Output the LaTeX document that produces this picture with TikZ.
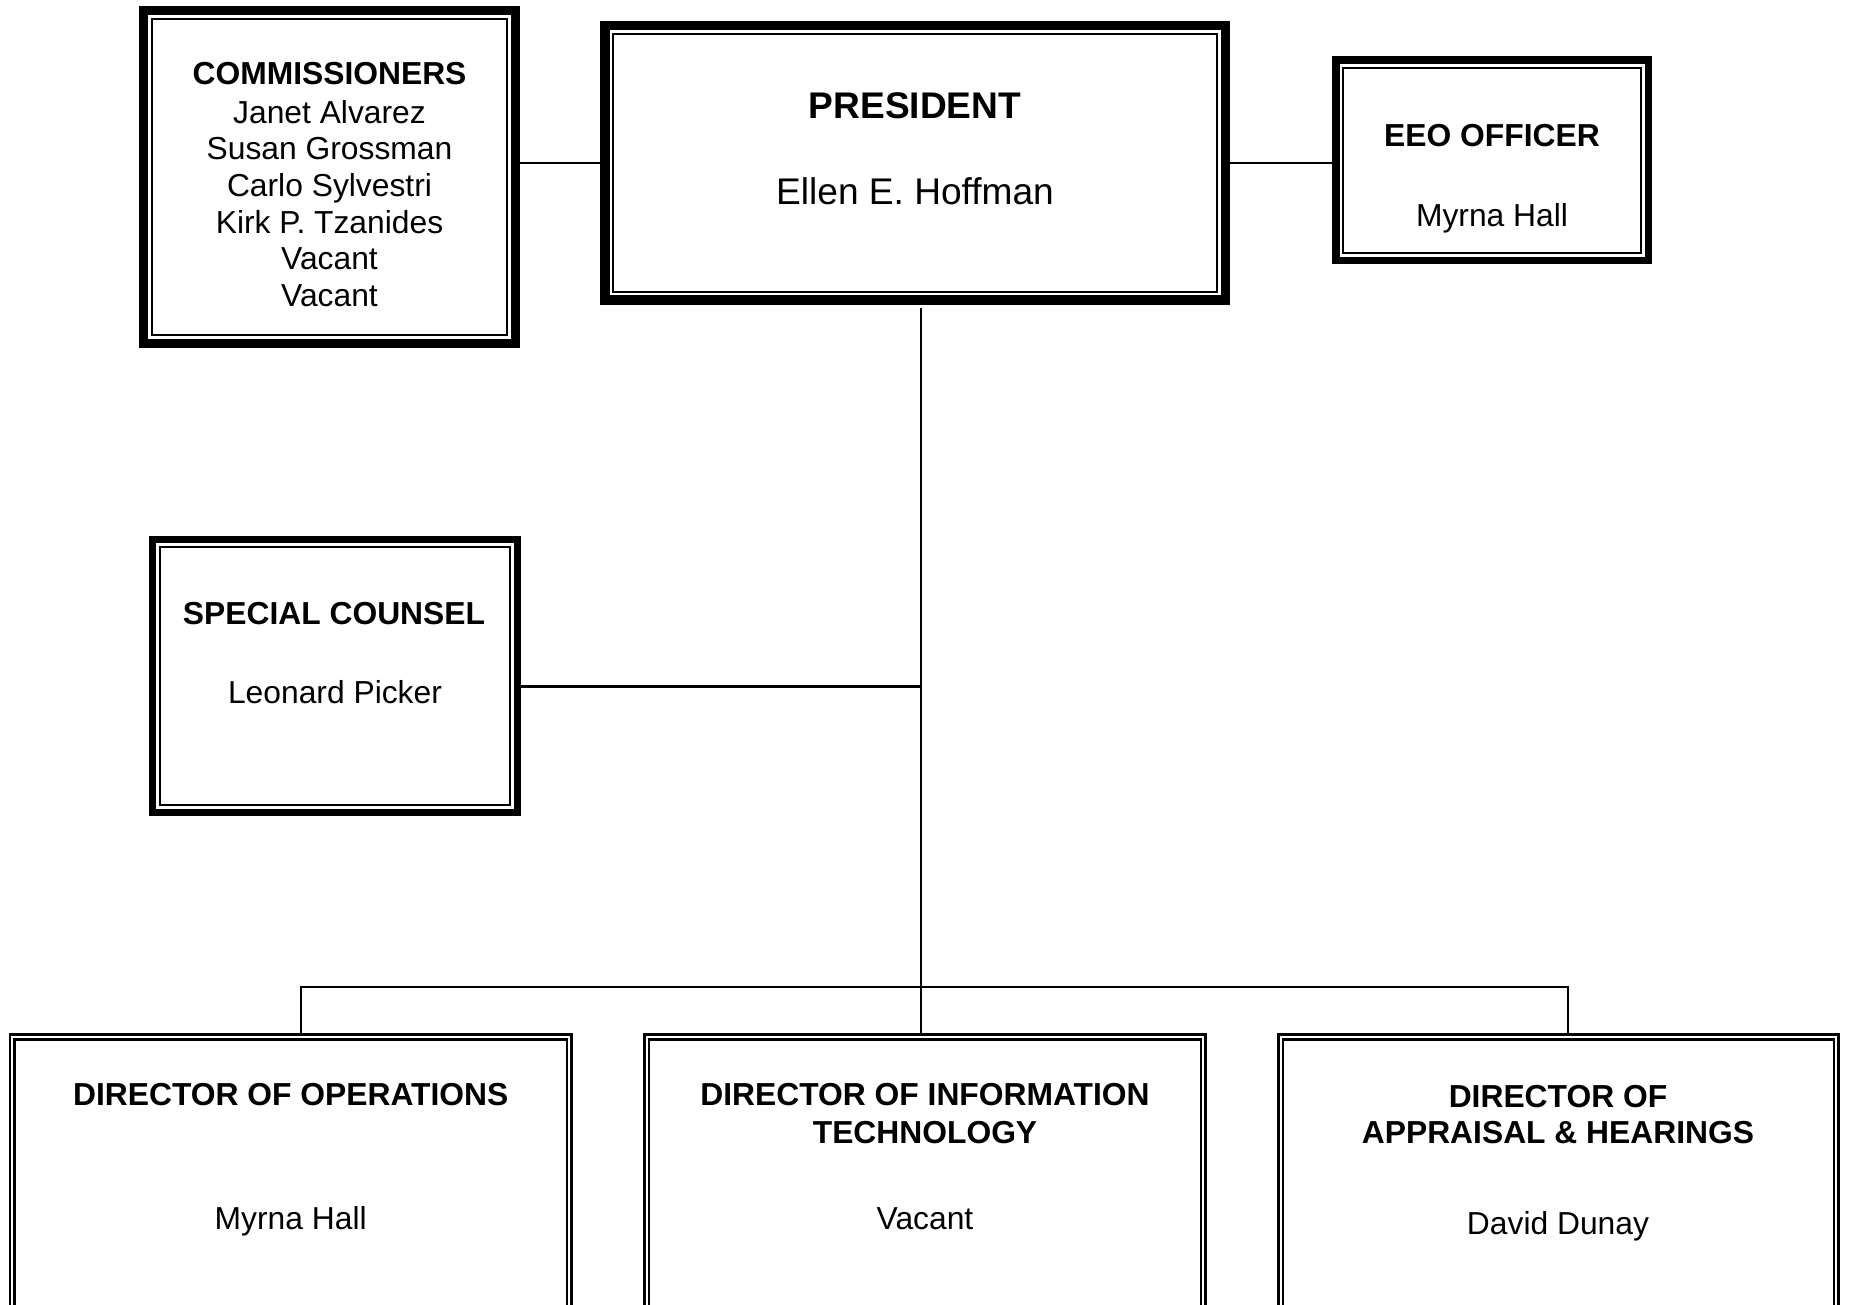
\documentclass[tikz,border=0pt]{standalone}
\usepackage{fontspec}
\setmainfont{Liberation Sans}
\newcommand\txtfs{\fontsize{31.8}{36.6}\selectfont}
\newcommand\presfs{\fontsize{37.1}{42.7}\selectfont}
\tikzset{
  thickthin/.style={draw, line width=#1, outer sep=#1/2, inner sep=0pt},
  dirbox/.style={draw, line width=2.6pt, double, double distance=2.2pt, outer sep=3.7pt, inner sep=0pt},
  innerline/.style={draw, line width=2.3pt},
  conn/.style={draw, line width=2.5pt},
  txt/.style={anchor=base, inner sep=0pt, font=\txtfs, yshift=-1.6pt},
  ptxt/.style={anchor=base, inner sep=0pt, font=\presfs, yshift=-1.6pt}
}
\begin{document}
\begin{tikzpicture}[x=1pt, y=-1pt]
\useasboundingbox (0,0) rectangle (1849,1305);
\clip (0,0) rectangle (1849,1305);

% boxes
\node[thickthin=9pt, minimum width=372pt, minimum height=333pt] (comm) at (329.5,177) {};
\draw[innerline] ([shift={(12.7,12.7)}]comm.north west) rectangle ([shift={(-12.7,-12.7)}]comm.south east);

\node[thickthin=9.5pt, minimum width=620.5pt, minimum height=274.5pt] (pres) at (915,163) {};
\draw[innerline] ([shift={(13.2,13.2)}]pres.north west) rectangle ([shift={(-13.2,-13.2)}]pres.south east);

\node[thickthin=7.5pt, minimum width=312.5pt, minimum height=200.5pt] (eeo) at (1492,160.5) {};
\draw[innerline] ([shift={(11.2,11.2)}]eeo.north west) rectangle ([shift={(-11.2,-11.2)}]eeo.south east);

\node[thickthin=7pt, minimum width=365pt, minimum height=273pt] (sc) at (335,676) {};
\draw[innerline] ([shift={(10.7,10.7)}]sc.north west) rectangle ([shift={(-10.7,-10.7)}]sc.south east);

\node[dirbox, minimum width=557.1pt, minimum height=299.3pt] (dirops) at (290.75,1186.7) {};
\node[dirbox, minimum width=556.6pt, minimum height=299.3pt] (dirit) at (925,1186.7) {};
\node[dirbox, minimum width=555.6pt, minimum height=299.3pt] (dirap) at (1558.5,1186.7) {};

% texts
\node[txt] (commt) at (329.5,83.3) {\begin{tabular}[t]{@{}c@{}}\bfseries COMMISSIONERS\\[1.8pt] Janet Alvarez\\ Susan Grossman\\ Carlo Sylvestri\\ Kirk P. Tzanides\\ Vacant\\ Vacant\end{tabular}};

\node[ptxt, font=\presfs\bfseries] (prest) at (915,116.7) {PRESIDENT};
\node[ptxt] (presn) at (915,202.7) {Ellen E. Hoffman};

\node[txt, font=\txtfs\bfseries] (eeot) at (1492,145) {EEO OFFICER};
\node[txt] (eeon) at (1492,225) {Myrna Hall};

\node[txt, font=\txtfs\bfseries] (sct) at (334,623.3) {SPECIAL COUNSEL};
\node[txt] (scn) at (335,702.3) {Leonard Picker};

\node[txt, font=\txtfs\bfseries] (dopt) at (290.7,1104.3) {DIRECTOR OF OPERATIONS};
\node[txt] (dopn) at (290.7,1227.7) {Myrna Hall};

\node[txt, font=\txtfs\bfseries] (ditt) at (925,1104.3) {\begin{tabular}[t]{@{}c@{}}DIRECTOR OF INFORMATION\\[0.8pt] TECHNOLOGY\end{tabular}};
\node[txt] (ditn) at (925,1227.7) {Vacant};

\node[txt, font=\txtfs\bfseries] (dapt) at (1558,1105.5) {\begin{tabular}[t]{@{}c@{}}DIRECTOR OF\\ APPRAISAL \& HEARINGS\end{tabular}};
\node[txt] (dapn) at (1558,1232.7) {David Dunay};

% connectors
\draw[conn] (pres.west) -- (pres.west -| comm.east);
\draw[conn] (pres.east) -- (pres.east -| eeo.west);
\coordinate (ttop) at (921,308);
\draw[conn] (ttop) -- (ttop |- dirit.north);
\coordinate (scj) at (921,686.5);
\draw[conn] (scj) -- (scj -| sc.east);
\coordinate (busL) at (301,987);
\coordinate (busR) at (1568,987);
\draw[conn] (busL |- dirops.north) -- (busL) -- (busR) -- (busR |- dirap.north);
\end{tikzpicture}
\end{document}
